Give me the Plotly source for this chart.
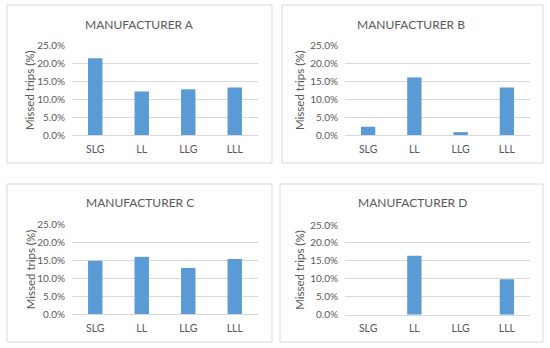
import plotly.graph_objects as go

categories = ["SLG", "LL", "LLG", "LLL"]
titles = ["MANUFACTURER A", "MANUFACTURER B", "MANUFACTURER C", "MANUFACTURER D"]
values_a = [21.3, 12.1, 12.7, 13.2]
values_b = [2.3, 16.0, 0.8, 13.2]
values_c = [14.9, 16.0, 12.9, 15.4]
values_d = [0.0, 16.4, 0.0, 9.9]
y_ticks = [0, 5, 10, 15, 20, 25]
y_title = "Missed trips (%)"

W, H = 550, 348
FONT = "Lato"
GRAY = "#595959"
BAR = "#5b9bd5"
GRID = "#d9d9d9"

# panel layout in pixels: (plot x0, x1, y_top(25%), y_bottom(0%), box x0,x1,y0,y1, title x,y, ytitle x)
panels = [
    (72, 258, 45, 135, 7, 272, 5, 163, 139, 24, 30),
    (345, 530, 45, 135, 282, 543, 5, 163, 411, 24, 300),
    (72, 258, 224.7, 314, 7, 272, 184, 342, 139.5, 202, 30),
    (345, 530, 225, 314.7, 280, 543, 184, 342, 412, 202, 300),
]
series = [values_a, values_b, values_c, values_d]

fig = go.Figure()
shapes = []
annotations = []
for i, (vals, p) in enumerate(zip(series, panels)):
    px0, px1, pyt, pyb, bx0, bx1, by0, by1, tx, ty, ytx = p
    n = i + 1
    xa = "x" if n == 1 else f"x{n}"
    ya = "y" if n == 1 else f"y{n}"
    fig.add_trace(go.Bar(
        x=categories, y=[v / 100 for v in vals], marker_color=BAR,
        marker_line_width=0, width=0.31, xaxis=xa, yaxis=ya, showlegend=False,
    ))
    xkey = "xaxis" if n == 1 else f"xaxis{n}"
    ykey = "yaxis" if n == 1 else f"yaxis{n}"
    fig.layout[xkey] = dict(
        domain=[px0 / W, px1 / W], anchor=ya, showgrid=False, automargin=False,
        showline=True, linecolor=GRID, linewidth=1, ticks="outside", ticklen=4,
        tickcolor="rgba(0,0,0,0)",
        tickfont=dict(family=FONT, size=10.5, color=GRAY), fixedrange=True,
    )
    fig.layout[ykey] = dict(
        domain=[1 - pyb / H, 1 - pyt / H], anchor=xa, range=[0, 0.25],
        tickvals=[t / 100 for t in y_ticks], tickformat=".1%", automargin=False,
        showgrid=True, gridcolor=GRID, gridwidth=1, zeroline=False,
        showline=False, ticks="outside", ticklen=4, tickcolor="rgba(0,0,0,0)",
        tickfont=dict(family=FONT, size=10, color=GRAY), fixedrange=True,
    )
    shapes.append(dict(type="rect", xref="paper", yref="paper",
                       x0=bx0 / W, x1=bx1 / W, y0=1 - by1 / H, y1=1 - by0 / H,
                       line=dict(color=GRID, width=1), fillcolor="rgba(0,0,0,0)"))
    annotations.append(dict(text=titles[i], xref="paper", yref="paper",
                            x=tx / W, y=1 - ty / H, showarrow=False,
                            xanchor="center", yanchor="middle",
                            font=dict(family=FONT, size=12, color=GRAY)))
    annotations.append(dict(text=y_title, xref="paper", yref="paper",
                            x=ytx / W, y=1 - (pyt + pyb) / 2 / H, showarrow=False,
                            textangle=-90, xanchor="center", yanchor="middle",
                            font=dict(family=FONT, size=11.5, color=GRAY)))

fig.update_layout(
    template="none",
    width=W, height=H, margin=dict(l=0, r=0, t=0, b=0, pad=0),
    paper_bgcolor="white", plot_bgcolor="white",
    shapes=shapes, annotations=annotations,
)
fig.write_html("out.html", config={"displayModeBar": False},
               post_script="document.body.style.margin='0';document.body.style.overflow='hidden';")
